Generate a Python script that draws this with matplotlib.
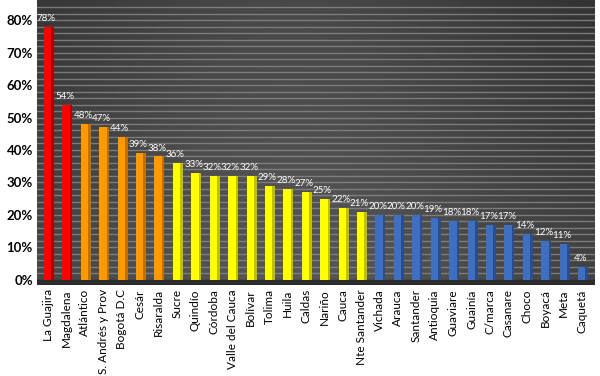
import numpy as np
import matplotlib
matplotlib.use("Agg")
import matplotlib.pyplot as plt
from matplotlib import font_manager as fm

categories = ["La Guajira", "Magdalena", "Atlántico", "S. Andrés y Prov", "Bogotá D.C",
              "Cesár", "Risaralda", "Sucre", "Quindío", "Córdoba", "Valle del Cauca",
              "Bolívar", "Tolima", "Huila", "Caldas", "Nariño", "Cauca", "Nte Santander",
              "Vichada", "Arauca", "Santander", "Antioquia", "Guaviare", "Guainía",
              "C/marca", "Casanare", "Choco", "Boyacá", "Meta", "Caquetá"]
values = [78, 54, 48, 47, 44, 39, 38, 36, 33, 32, 32, 32, 29, 28, 27, 25, 22, 21,
          20, 20, 20, 19, 18, 18, 17, 17, 14, 12, 11, 4]
groups = [0]*2 + [1]*5 + [2]*11 + [3]*12
group_colors = ["#FF0000", "#FF9900", "#FFFF00", "#3E6FC1"]
side_colors = ["#B00000", "#C07000", "#C0C000", "#2A4E8C"]
yticks = [0, 10, 20, 30, 40, 50, 60, 70, 80]

names = {f.name for f in fm.fontManager.ttflist}
fam = "Liberation Sans Narrow" if "Liberation Sans Narrow" in names else "Lato"
plt.rcParams['font.family'] = [fam, 'DejaVu Sans']

fig = plt.figure(figsize=(6, 3.76), dpi=100)
ax = fig.add_axes([37/600, 1-285/376, 558/600, 285/376])
x = np.arange(len(categories))
ax.set_xlim(-0.6, len(categories) - 0.3)
ax.set_ylim(-1.6, 86.2)

# gradient background
gx = np.linspace(0, 1, 200)
gy = np.linspace(0, 1, 100)
GX, GY = np.meshgrid(gx, gy)
bright = 0.24 + 0.10*np.exp(-((GX-0.45)/0.45)**2) - 0.06*GY
ax.imshow(bright, cmap="gray", vmin=0, vmax=1, aspect="auto",
          extent=[-0.6, len(categories)-0.3, -1.6, 86.2], origin="lower", zorder=0)
# floor
ax.axhspan(-1.6, 0, color="#2b2b2b", zorder=1)
for g in np.arange(2, 86, 2):
    ax.axhline(g, color="#8a8a8a", lw=1.0, alpha=0.8, zorder=1)

cols = [group_colors[g] for g in groups]
scols = [side_colors[g] for g in groups]
w = 0.52
ax.bar(x + 0.06, values, width=w, color=scols, zorder=2)
ax.bar(x - 0.02, values, width=w - 0.12, color=cols, zorder=3)
for xi, v in zip(x, values):
    ax.text(xi - 0.1, v + 1.2, f"{v}%", color="white", fontsize=7, ha="center",
            va="bottom", zorder=4)

ax.set_yticks(yticks)
ax.set_yticklabels([f"{t}%" for t in yticks], fontsize=9.5, fontweight="bold")
ax.set_xticks(x)
ax.set_xticklabels(categories, rotation=90, fontsize=8.5)
ax.tick_params(length=0, pad=3)
for s in ax.spines.values():
    s.set_visible(False)

fig.savefig("out.png", dpi=100)
